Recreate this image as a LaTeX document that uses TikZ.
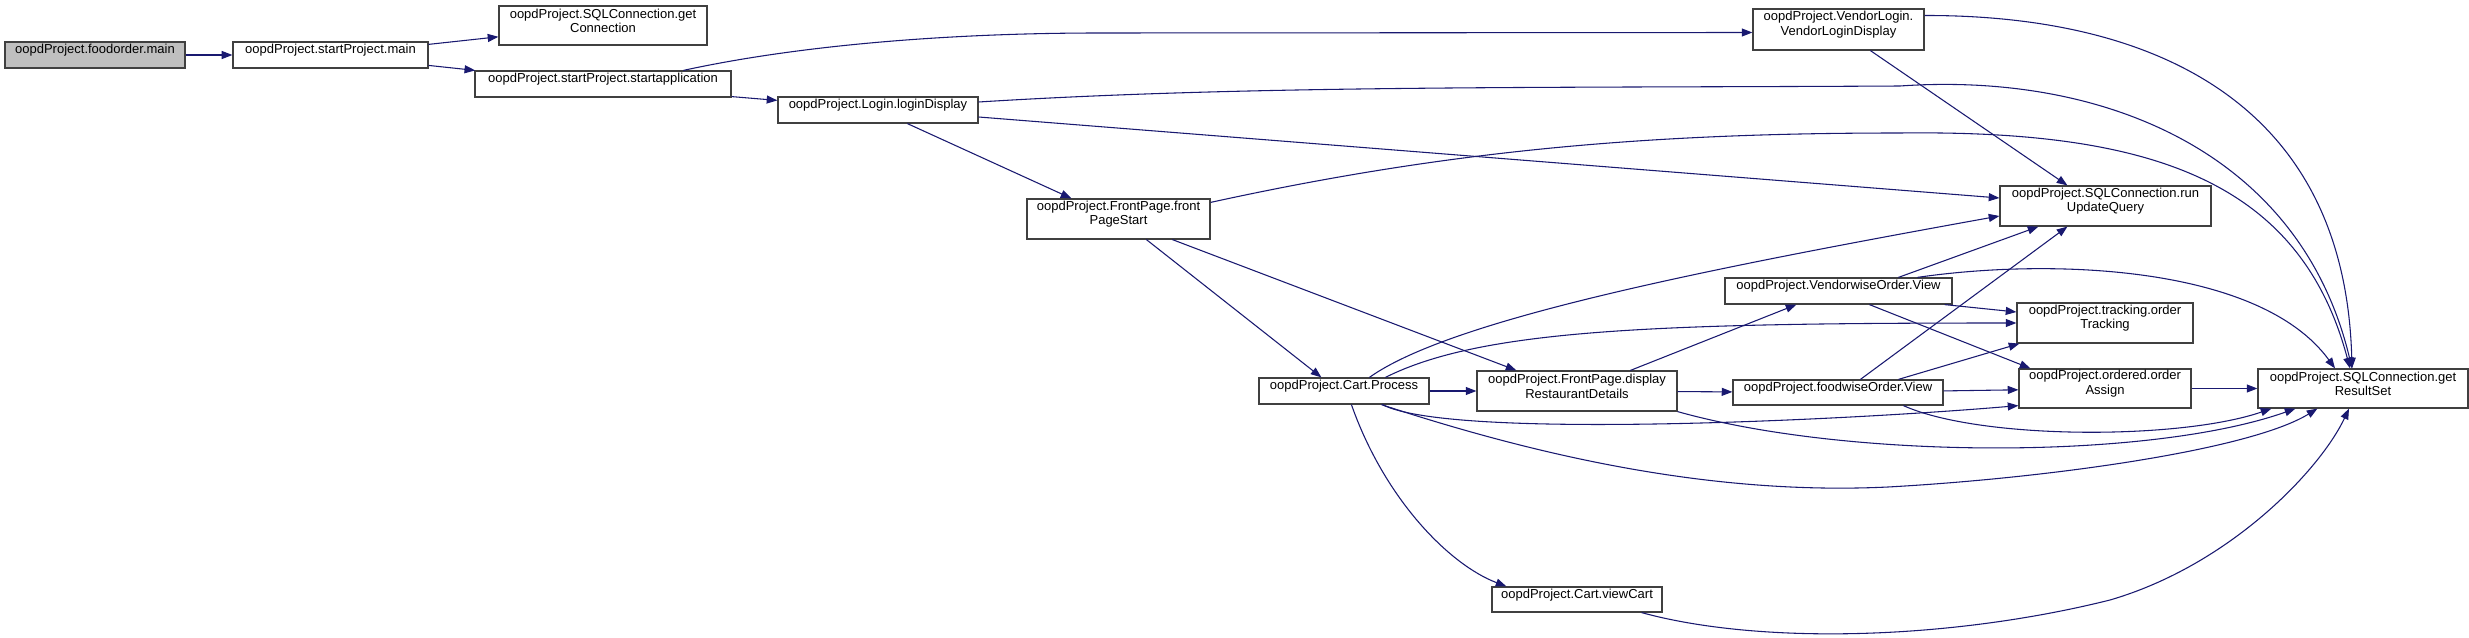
\documentclass[tikz,border=0pt]{standalone}
\usepackage{fontspec}
\setmainfont{Liberation Sans}
\usetikzlibrary{arrows.meta,fit,calc}
\definecolor{edgeblue}{HTML}{191970}
\definecolor{rootgray}{HTML}{BFBFBF}
\begin{document}
\begin{tikzpicture}[x=0.75pt,y=-0.75pt,
  box/.style={draw=black!75, line width=0.9pt, fill=white, inner sep=0pt, align=center,
    font=\fontsize{9.75}{11}\selectfont},
  rootbox/.style={box, fill=rootgray},
  call/.style={draw=edgeblue, line width=0.8pt, -{Triangle[length=8pt,width=6pt]}}]
\fill[white] (0,0) rectangle (2469,638);
\useasboundingbox (0,0) rectangle (2469,638);

% nodes
\node[rootbox, fit={(5,42) (185,68)}] (A) {oopdProject.foodorder.main};
\node[box, fit={(233,42) (428,68)}] (B) {oopdProject.startProject.main};
\node[box, fit={(499,6) (707,45)}] (C) {oopdProject.SQLConnection.get\\Connection};
\node[box, fit={(475,71) (731,97)}] (D) {oopdProject.startProject.startapplication};
\node[box, fit={(1753,9) (1924,50)}] (E) {oopdProject.VendorLogin.\\VendorLoginDisplay};
\node[box, fit={(778,97) (978,123)}] (F) {oopdProject.Login.loginDisplay};
\node[box, fit={(1027,199) (1210,239)}] (G) {oopdProject.FrontPage.front\\PageStart};
\node[box, fit={(2000,186) (2211,226)}] (H) {oopdProject.SQLConnection.run\\UpdateQuery};
\node[box, fit={(1725,278) (1952,304)}] (I) {oopdProject.VendorwiseOrder.View};
\node[box, fit={(2017,303) (2193,343)}] (J) {oopdProject.tracking.order\\Tracking};
\node[box, fit={(1259,378) (1429,404)}] (K) {oopdProject.Cart.Process};
\node[box, fit={(1477,371) (1677,411)}] (L) {oopdProject.FrontPage.display\\RestaurantDetails};
\node[box, fit={(1733,380) (1943,405)}] (M) {oopdProject.foodwiseOrder.View};
\node[box, fit={(2019,369) (2191,408)}] (N) {oopdProject.ordered.order\\Assign};
\node[box, fit={(2258,369) (2468,408)}] (O) {oopdProject.SQLConnection.get\\ResultSet};
\node[box, fit={(1492,587) (1662,612)}] (P) {oopdProject.Cart.viewCart};

% edges
\draw[call] (A) -- (B);
\draw[call] (B) -- (C);
\draw[call] (B) -- (D);
\draw[call] ($(D.north west)+(209,0)$) .. controls (800,45) and (950,33) .. (1100,33) -- ($(E.west)+(0,3)$);
\draw[call] ($(D.south east)+(0,-1)$) -- ($(F.north west)+(0,4)$);
\draw[call] ($(E.south west)+(118,0)$) -- ($(H.north west)+(68,0)$);
\draw[call] ($(E.east)+(0,-14)$) .. controls (2150,15) and (2345,100) .. ($(O.north)+(-11,0)$);
\draw[call] ($(F.east)+(0,-8)$) .. controls (1250,85) and (1550,88) .. (1900,86) .. controls (2100,72) and (2300,150) .. ($(O.north)+(-11,0)$);
\draw[call] ($(F.east)+(0,7)$) -- ($(H.west)+(0,-8)$);
\draw[call] ($(F.south west)+(130,0)$) -- ($(G.north west)+(45,0)$);
\draw[call] ($(G.north east)+(0,4)$) .. controls (1450,150) and (1650,133) .. (1900,133) .. controls (2150,130) and (2300,180) .. ($(O.north)+(-13,0)$);
\draw[call] ($(G.south west)+(120,0)$) -- ($(K.north west)+(63,0)$);
\draw[call] ($(G.south west)+(146,0)$) -- ($(L.north west)+(40,0)$);
\draw[call] ($(K.north west)+(111,0)$) .. controls (1450,320) and (1700,270) .. ($(H.west)+(0,10)$);
\draw[call] ($(K.north west)+(127,0)$) .. controls (1480,330) and (1650,323) .. (J.west);
\draw[call] (K) -- (L);
\draw[call] ($(K.south west)+(124,0)$) .. controls (1450,440) and (1850,420) .. ($(N.south west)+(0,-3)$);
\draw[call] ($(K.south west)+(123,0)$) .. controls (1550,460) and (1720,495) .. (1888,487) .. controls (2050,478) and (2250,450) .. ($(O.south west)+(60,0)$);
\draw[call] ($(K.south west)+(93,0)$) .. controls (1385,500) and (1450,565) .. ($(P.north west)+(15,0)$);
\draw[call] ($(L.north west)+(154,0)$) -- ($(I.south west)+(72,0)$);
\draw[call] (L) -- (M);
\draw[call] (L.south east) .. controls (1850,460) and (2150,460) .. ($(O.south west)+(38,0)$);
\draw[call] ($(I.north west)+(174,0)$) -- ($(H.south west)+(39,0)$);
\draw[call] ($(I.north west)+(193,0)$) .. controls (2050,258) and (2260,265) .. ($(O.north)+(-28,0)$);
\draw[call] ($(I.south east)+(-8,0)$) -- ($(J.west)+(0,-11)$);
\draw[call] ($(I.south west)+(145,0)$) -- ($(N.north west)+(12,0)$);
\draw[call] ($(M.north west)+(128,0)$) -- ($(H.south west)+(68,0)$);
\draw[call] ($(M.north west)+(166,0)$) -- ($(J.south west)+(3,0)$);
\draw[call] (M) -- (N);
\draw[call] ($(M.south west)+(171,0)$) .. controls (1980,440) and (2180,440) .. ($(O.south west)+(14,0)$);
\draw[call] (N) -- (O);
\draw[call] ($(P.south east)+(-21,0)$) .. controls (1760,645) and (1950,640) .. (2110,600) .. controls (2230,565) and (2320,470) .. ($(O.south)+(-14,0)$);
\end{tikzpicture}
\end{document}
